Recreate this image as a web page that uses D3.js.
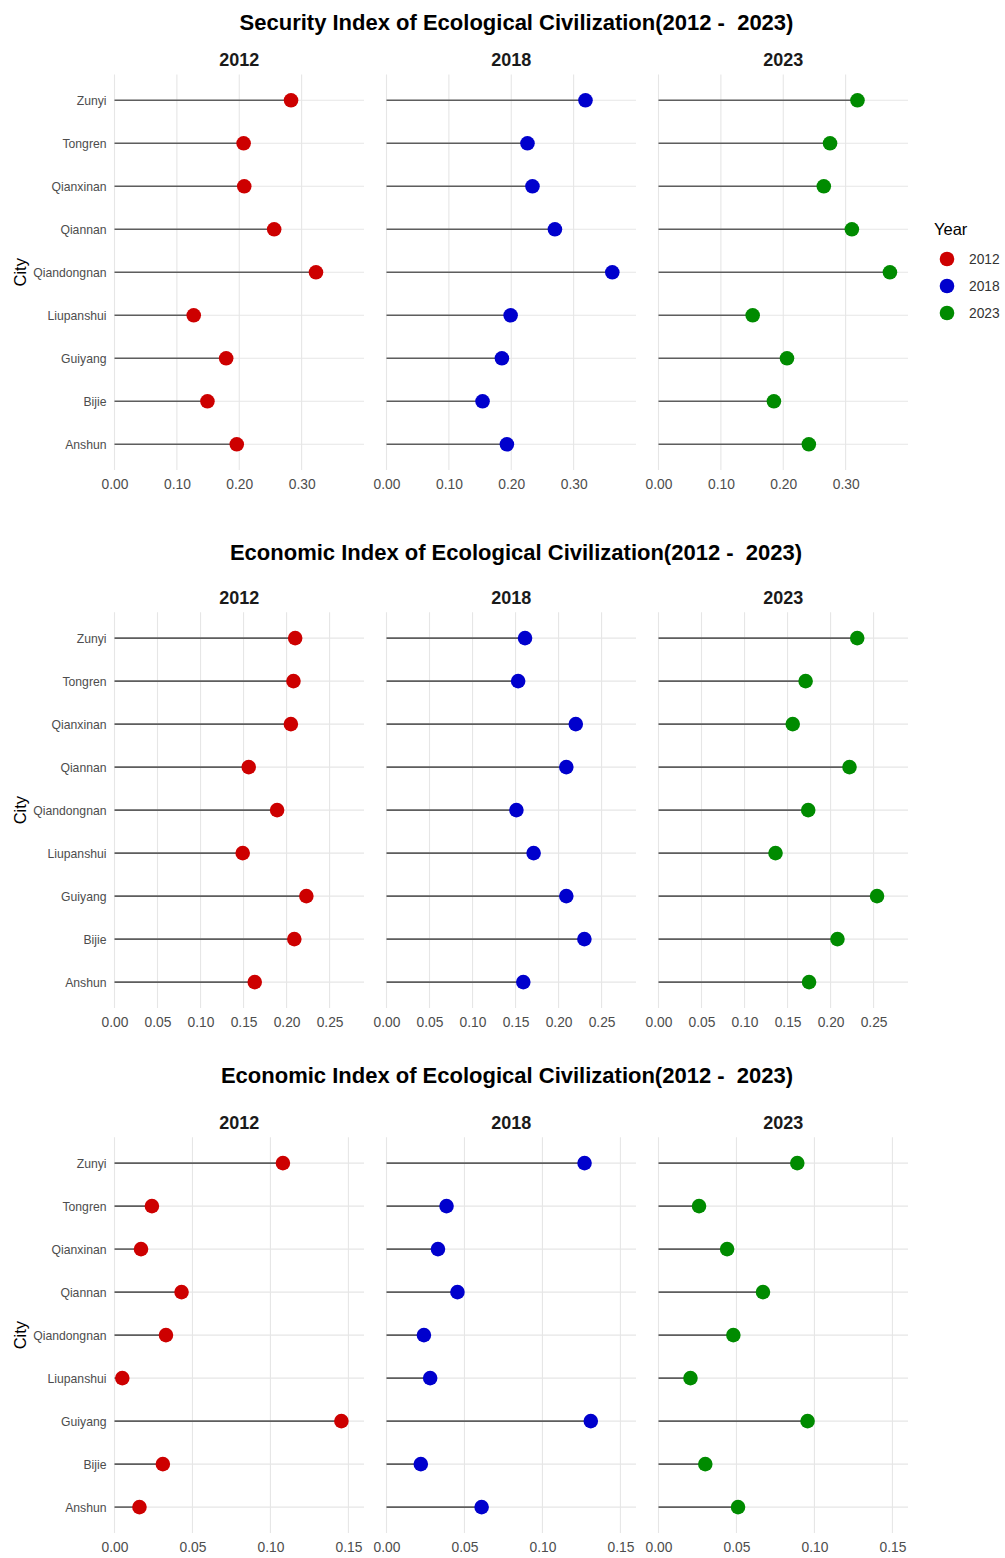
<!DOCTYPE html>
<html>
<head>
<meta charset="utf-8">
<script src="https://cdn.jsdelivr.net/npm/d3@7/dist/d3.min.js"></script>
<style>
  html, body { margin: 0; padding: 0; background: #fff; }
  svg { display: block; font-family: "Liberation Sans", Arial, sans-serif; }
</style>
</head>
<body>
<svg id="chart" width="1005" height="1558"></svg>
<script>
// ---------- DATA ----------
const cities = ["Zunyi", "Tongren", "Qianxinan", "Qiannan", "Qiandongnan", "Liupanshui", "Guiyang", "Bijie", "Anshun"];
const years = ["2012", "2018", "2023"];
const yearColors = ["#CD0000", "#0000CD", "#008B00"];

const security2012 = [0.283, 0.207, 0.208, 0.256, 0.323, 0.127, 0.179, 0.149, 0.196];
const security2018 = [0.319, 0.226, 0.234, 0.270, 0.362, 0.199, 0.185, 0.154, 0.193];
const security2023 = [0.319, 0.275, 0.265, 0.310, 0.371, 0.151, 0.206, 0.185, 0.241];

const economicA2012 = [0.210, 0.208, 0.205, 0.156, 0.189, 0.149, 0.223, 0.209, 0.163];
const economicA2018 = [0.161, 0.153, 0.220, 0.209, 0.151, 0.171, 0.209, 0.230, 0.159];
const economicA2023 = [0.231, 0.171, 0.156, 0.222, 0.174, 0.136, 0.254, 0.208, 0.175];

const economicB2012 = [0.108, 0.024, 0.017, 0.043, 0.033, 0.005, 0.1455, 0.031, 0.016];
const economicB2018 = [0.127, 0.0385, 0.033, 0.0455, 0.024, 0.028, 0.131, 0.022, 0.061];
const economicB2023 = [0.089, 0.026, 0.044, 0.067, 0.048, 0.0205, 0.0956, 0.030, 0.051];

const titles = [
  "Security Index of Ecological Civilization(2012 -  2023)",
  "Economic Index of Ecological Civilization(2012 -  2023)",
  "Economic Index of Ecological Civilization(2012 -  2023)"
];
const ticksTop = [0, 0.1, 0.2, 0.3];
const ticksMid = [0, 0.05, 0.1, 0.15, 0.2, 0.25];
const ticksBot = [0, 0.05, 0.1, 0.15];

// ---------- LAYOUT ----------
const svg = d3.select("#chart");
const panelX0 = 114.5, panelW = 249.5, panelGap = 22.5;
const blocks = [
  { title: titles[0], titleX: 516.5, titleY: 22, stripY: 60, top: 74.5, series: [security2012, security2018, security2023], xmax: 0.40, ticks: ticksTop, legend: true },
  { title: titles[1], titleX: 516, titleY: 552, stripY: 598, top: 612.3, series: [economicA2012, economicA2018, economicA2023], xmax: 0.29, ticks: ticksMid, legend: false },
  { title: titles[2], titleX: 507, titleY: 1075, stripY: 1123, top: 1137.3, series: [economicB2012, economicB2018, economicB2023], xmax: 0.16, ticks: ticksBot, legend: false }
];
const panelH = 395.6;
const gridCol = "#E6E6E6";
const fmt = d3.format(".2f");

blocks.forEach(b => {
  const g = svg.append("g");
  g.append("text")
    .attr("x", b.titleX).attr("y", b.titleY)
    .attr("text-anchor", "middle").attr("dominant-baseline", "central")
    .style("white-space", "pre")
    .attr("font-size", 22).attr("font-weight", "bold").attr("fill", "#000")
    .text(b.title);

  const y = d3.scalePoint().domain(cities).range([b.top, b.top + panelH]).padding(0.6);

  // City axis title
  g.append("text")
    .attr("transform", `translate(20,${b.top + panelH / 2}) rotate(-90)`)
    .attr("text-anchor", "middle").attr("dominant-baseline", "central")
    .attr("font-size", 16.5).attr("fill", "#000")
    .text("City");

  years.forEach((yr, i) => {
    const px = panelX0 + i * (panelW + panelGap);
    const x = d3.scaleLinear().domain([0, b.xmax]).range([px, px + panelW]);
    const vals = b.series[i];
    const pg = g.append("g");

    // gridlines
    pg.selectAll("line.vg").data(b.ticks).join("line")
      .attr("x1", d => x(d)).attr("x2", d => x(d))
      .attr("y1", b.top).attr("y2", b.top + panelH)
      .attr("stroke", gridCol).attr("stroke-width", 1.1);
    pg.selectAll("line.hg").data(cities).join("line")
      .attr("x1", px).attr("x2", px + panelW)
      .attr("y1", d => y(d)).attr("y2", d => y(d))
      .attr("stroke", gridCol).attr("stroke-width", 1.1);

    // strip title
    pg.append("text")
      .attr("x", px + panelW / 2).attr("y", b.stripY)
      .attr("text-anchor", "middle").attr("dominant-baseline", "central")
      .attr("font-size", 18).attr("font-weight", "bold").attr("fill", "#1A1A1A")
      .text(yr);

    // x axis
    const xa = pg.append("g").attr("transform", `translate(0,${b.top + panelH})`)
      .call(d3.axisBottom(x).tickValues(b.ticks).tickFormat(fmt).tickSize(0).tickPadding(9));
    xa.select(".domain").remove();
    xa.selectAll("text").attr("font-size", 13.8).attr("fill", "#4D4D4D")
      .attr("font-family", "'Liberation Sans', Arial, sans-serif");

    // y axis (first panel only)
    if (i === 0) {
      const ya = pg.append("g").attr("transform", `translate(${px},0)`)
        .call(d3.axisLeft(y).tickSize(0).tickPadding(8));
      ya.select(".domain").remove();
      ya.selectAll("text").attr("font-size", 12.2).attr("fill", "#4D4D4D")
        .attr("font-family", "'Liberation Sans', Arial, sans-serif");
    }

    // segments
    pg.selectAll("line.seg").data(cities).join("line")
      .attr("x1", x(0)).attr("x2", (d, k) => x(vals[k]))
      .attr("y1", d => y(d)).attr("y2", d => y(d))
      .attr("stroke", "#5E5E5E").attr("stroke-width", 1.6);
    // points
    pg.selectAll("circle").data(cities).join("circle")
      .attr("cx", (d, k) => x(vals[k])).attr("cy", d => y(d))
      .attr("r", 7.3).attr("fill", yearColors[i]);
  });

  if (b.legend) {
    const lg = svg.append("g");
    lg.append("text").attr("x", 934).attr("y", 229)
      .attr("dominant-baseline", "central").attr("font-size", 16.5).attr("fill", "#000")
      .text("Year");
    const ly = d3.scalePoint().domain(years).range([259, 313]);
    lg.selectAll("circle").data(years).join("circle")
      .attr("cx", 947).attr("cy", d => ly(d)).attr("r", 7.3)
      .attr("fill", (d, k) => yearColors[k]);
    lg.selectAll("text.lab").data(years).join("text")
      .attr("x", 969).attr("y", d => ly(d))
      .attr("dominant-baseline", "central").attr("font-size", 13.8).attr("fill", "#333")
      .text(d => d);
  }
});
</script>
</body>
</html>
